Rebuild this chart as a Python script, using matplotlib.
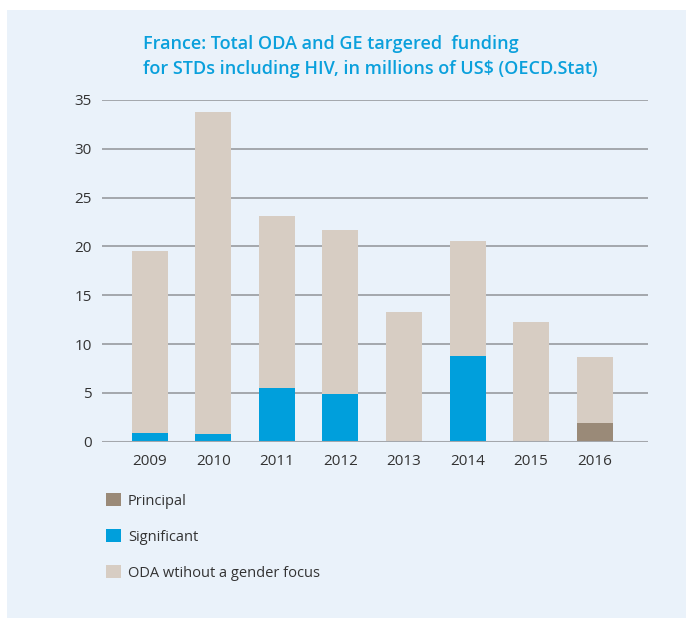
from matplotlib import pyplot as plt
from matplotlib.patches import Rectangle, Patch

# values, millions of US$
years = ['2009', '2010', '2011', '2012', '2013', '2014', '2015', '2016']
principal = [0, 0, 0, 0, 0, 0, 0, 1.95]
significant = [0.92, 0.82, 5.54, 4.89, 0.1, 8.79, 0.02, 0]
total = [19.55, 33.8, 23.14, 21.7, 13.3, 20.58, 12.27, 8.68]
no_focus = [t - p - s for t, p, s in zip(total, principal, significant)]

labels = ['Principal', 'Significant', 'ODA wtihout a gender focus']
colors = ['#9a8a78', '#009fdc', '#d7cdc3']
bg = '#eaf2fa'
text_col = '#333333'

plt.rcParams['font.family'] = ['Open Sans', 'DejaVu Sans']

fig = plt.figure(figsize=(6.86, 6.18), dpi=100)
fig.patch.set_facecolor('white')
# light blue panel behind everything
fig.patches.append(Rectangle((7 / 686, 0), 1, 1 - 10 / 618, transform=fig.transFigure,
                             facecolor=bg, edgecolor='none', zorder=-1))

ax = fig.add_axes([0.148, 0.2853, 0.7966, 0.5529])
ax.set_facecolor('none')

x = range(len(years))
w = 0.567
ax.bar(x, principal, w, color=colors[0], zorder=3)
ax.bar(x, significant, w, bottom=principal, color=colors[1], zorder=3)
bottoms = [p + s for p, s in zip(principal, significant)]
ax.bar(x, no_focus, w, bottom=bottoms, color=colors[2], zorder=3)

ax.set_ylim(0, 35)
ax.set_xlim(-0.76, 7.84)
ax.set_yticks(range(0, 36, 5))
ax.set_xticks(list(x))
ax.set_xticklabels(years)
ax.yaxis.grid(True, color='#a4a7ac', linewidth=1.4, zorder=1)
ax.set_axisbelow(True)
ax.axhline(0, color='#a4a7ac', linewidth=2.2, zorder=4)
for s in ax.spines.values():
    s.set_visible(False)
ax.tick_params(length=0, labelsize=11, colors=text_col)
ax.tick_params(axis='y', pad=7)
ax.tick_params(axis='x', pad=9)

fig.text(143 / 686, 1 - 44 / 618, 'France: Total ODA and GE targered  funding',
         color='#0aa0dc', fontsize=13, fontweight='semibold', va='center', ha='left')
fig.text(143 / 686, 1 - 69 / 618, 'for STDs including HIV, in millions of US$ (OECD.Stat)',
         color='#0aa0dc', fontsize=13, fontweight='semibold', va='center', ha='left')

handles = [Patch(facecolor=c, edgecolor='none') for c in colors]
fig.legend(handles, labels, loc='upper left', bbox_to_anchor=(93 / 686, 1 - 480 / 618),
           frameon=False, fontsize=10.5, labelcolor=text_col, handlelength=1.0,
           handleheight=1.0, handletextpad=0.5, labelspacing=1.4)

fig.savefig('out.png', dpi=100, facecolor=fig.get_facecolor())
